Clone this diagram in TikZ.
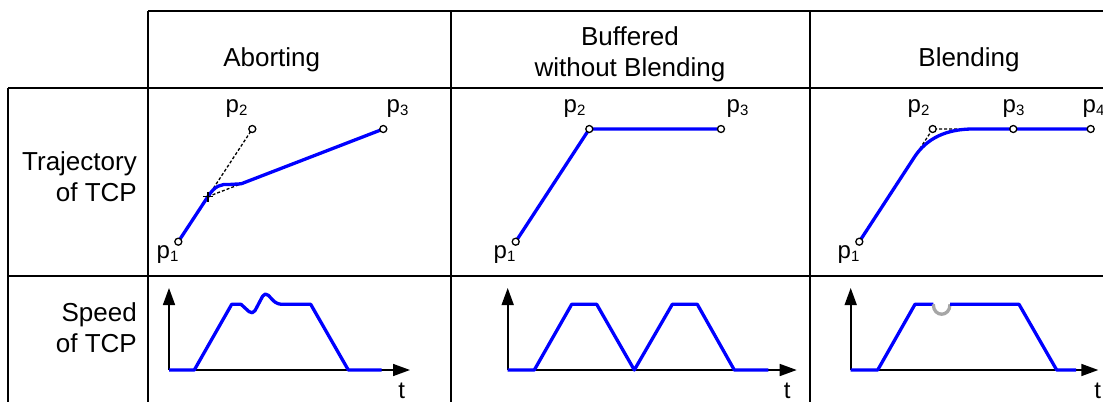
\documentclass[tikz,border=0pt]{standalone}
\usepackage{fontspec}
\setmainfont{Liberation Sans}
\usetikzlibrary{arrows.meta,calc}
\newcommand{\pname}[1]{p\raisebox{-3pt}{\fontsize{15}{15}\selectfont #1}}
\begin{document}
\begin{tikzpicture}[x=1pt,y=-1pt,>={Triangle[length=17pt,width=12pt]},
  font=\fontsize{26}{31}\selectfont,
  grid/.style={line width=1.6pt},
  traj/.style={blue,line width=3.3pt,line join=round},
  aux/.style={densely dashed,line width=1.3pt},
  pt/.style={circle,draw,fill=white,line width=1.3pt,inner sep=0pt,minimum size=7pt},
  plabel/.style={anchor=base west,inner sep=0pt,font=\fontsize{24}{28}\selectfont},
  tlabel/.style={anchor=base,inner sep=0pt,font=\fontsize{24}{28}\selectfont},
  axis/.style={->,line width=1.6pt}]
\useasboundingbox (0,0) rectangle (1103,402);
\draw[grid] (148,11) -- (1103,11);
\draw[grid] (8,88) -- (1103,88);
\draw[grid] (8,276) -- (1103,276);
\draw[grid] (8,88) -- (8,402);
\foreach \x in {148,451,810}
  \draw[grid] (\x,11) -- (\x,402);
\node[anchor=base] (hdabort) at (271.7,66.7) {Aborting};
\node[align=center] (hdbuffer) at (630,54.6) {Buffered\\without Blending};
\node[anchor=base] (hdblend) at (969,66.7) {Blending};
\node[align=right,anchor=east,inner sep=0pt] (rowtraj) at (137,176.7) {Trajectory\\of TCP};
\node[align=right,anchor=east,inner sep=0pt] (rowspeed) at (137,327.7) {Speed\\of TCP};
% aborting
\coordinate (a1) at (178.3,241.7);
\coordinate (a2) at (252.3,129);
\coordinate (a3) at (383.3,129);
\coordinate (ax) at ($(a1)!0.4!(a2)$);
\coordinate (ae) at ($(ax)!0.19!(a3)$);
\draw[aux] (ax) -- (a2);
\draw[aux] (ax) -- (ae);
\draw[traj] (a1) -- (ax) .. controls (215,185.5) and (221,184) .. (229,184.5) -- (ae) -- (a3);
\draw[line width=1.3pt] ($(ax)+(-5,0)$) -- ($(ax)+(5,0)$) ($(ax)+(0,-5)$) -- ($(ax)+(0,5)$);
\foreach \p in {a1,a2,a3}
  \node[pt] at (\p) {};
\node[plabel] (la1) at (156.5,258) {\pname{1}};
\node[plabel] (la2) at (225.5,112) {\pname{2}};
\node[plabel] (la3) at (386.5,112) {\pname{3}};
% buffered
\coordinate (b1) at (515.7,241.7);
\coordinate (b2) at (589.3,129);
\coordinate (b3) at (721,129);
\draw[traj] (b1) -- (b2) -- (b3);
\foreach \p in {b1,b2,b3}
  \node[pt] at (\p) {};
\node[plabel] (lb1) at (493.5,258) {\pname{1}};
\node[plabel] (lb2) at (563.5,112) {\pname{2}};
\node[plabel] (lb3) at (726.5,112) {\pname{3}};
% blending
\coordinate (c1) at (859.3,241.7);
\coordinate (c2) at (932.7,129);
\coordinate (c3) at (1013.3,129);
\coordinate (c4) at (1090.7,129);
\coordinate (cs) at ($(c1)!0.75!(c2)$);
\coordinate (ce) at ($(c2)!0.5!(c3)$);
\draw[aux] (cs) -- (c2) -- (ce);
\draw[traj] (c1) -- (cs) .. controls ($(cs)!0.667!(c2)$) and ($(ce)!0.667!(c2)$) .. (ce) -- (c4);
\foreach \p in {c1,c2,c3,c4}
  \node[pt] at (\p) {};
\node[plabel] (lc1) at (837.5,258) {\pname{1}};
\node[plabel] (lc2) at (907.5,112) {\pname{2}};
\node[plabel] (lc3) at (1002.5,112) {\pname{3}};
\node[plabel] (lc4) at (1082.5,112) {\pname{4}};
% speed
\draw[axis] (169,370) -- (169,288);
\draw[axis] (169,370) -- (410,370);
\node[tlabel] (ta) at (401.7,398) {t};
\draw[traj] (169,370) -- (194.3,370) -- (231.7,304.3) -- (241,304.3) [rounded corners=5pt] -- (252.7,315) -- (265,291.7) -- (276.7,304.3) [sharp corners] -- (310.7,304.3) -- (348.3,370) -- (381.7,370);
\draw[axis] (507.7,370) -- (507.7,288);
\draw[axis] (507.7,370) -- (796.7,370);
\node[tlabel] (tb) at (787.3,398) {t};
\draw[traj] (507.7,370) -- (534.3,370) -- (571.7,304.3) -- (596.7,304.3) -- (634.3,370) -- (672.3,304.3) -- (697.3,304.3) -- (734.3,370) -- (768.3,370);
\draw[axis] (850.7,370) -- (850.7,288);
\draw[axis] (850.7,370) -- (1098.3,370);
\node[tlabel] (tc) at (1097.7,398) {t};
\draw[traj] (850.7,370) -- (877.7,370) -- (915,304.3) -- (933.3,304.3);
\draw[black!35,line width=3.3pt] (933.3,304.3) .. controls (933.3,317.5) and (950,317.5) .. (950,304.3);
\draw[traj] (950,304.3) -- (1019,304.3) -- (1056.7,370) -- (1076,370);
\end{tikzpicture}
\end{document}
